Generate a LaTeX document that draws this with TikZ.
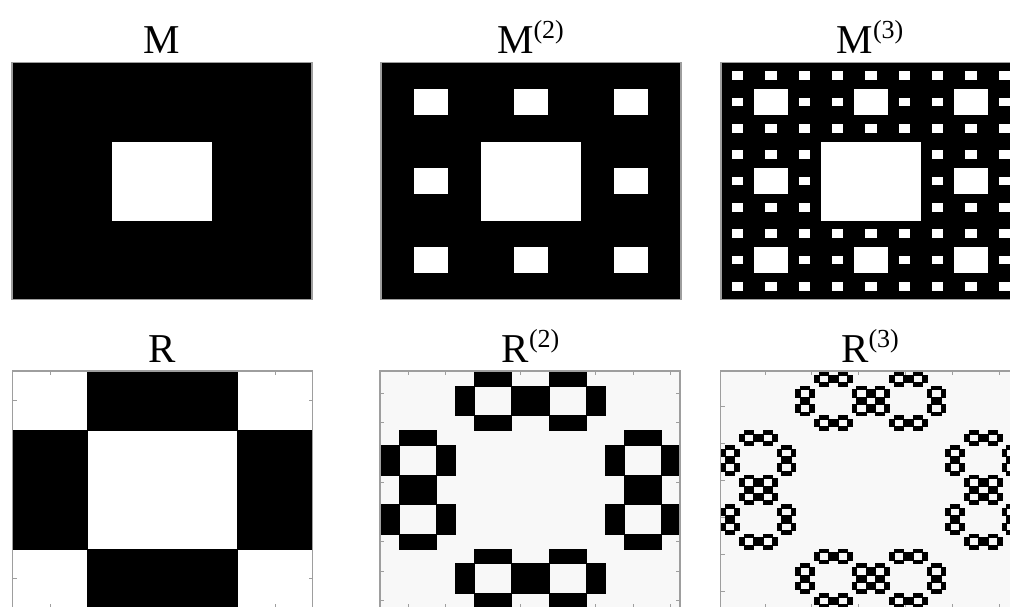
\documentclass[tikz,border=0pt]{standalone}
\usepackage{fontspec}
\setmainfont{Liberation Serif}
\definecolor{bgR}{gray}{0.973}
\definecolor{axc}{gray}{0.62}
\tikzset{
  title/.style={anchor=base, inner sep=0pt, font=\fontsize{41}{41}\selectfont},
  axbox/.style={draw=axc, line width=1.2pt},
  tickmark/.style={draw=axc, line width=0.9pt},
  cellb/.style={fill=black, draw=black, line width=0.35pt},
  cellw/.style={fill=white},
}
\newcommand{\sups}[1]{\raisebox{15pt}{\fontsize{26}{26}\selectfont(#1)}}
\def\Rlist{0/1,0/2,1/0,1/3,2/0,2/3,3/1,3/2}
\newcommand{\rticks}[2]{%
  \foreach \k in {#2} {
    \draw[tickmark] (\k+0.5,0) -- ++(0pt,-4pt);
    \draw[tickmark] (\k+0.5,#1) -- ++(0pt,4pt);
    \draw[tickmark] (0,\k+0.5) -- ++(4pt,0pt);
    \draw[tickmark] (#1,\k+0.5) -- ++(-4pt,0pt);
  }}
\begin{document}
\begin{tikzpicture}[x=1pt,y=-1pt]
\useasboundingbox (0,0) rectangle (1010,606);
\fill[white] (0,0) rectangle (1010,606);
\clip (0,0) rectangle (1010,606);

% titles
\node[title] (tM)  at (162,53)    {M};
\node[title] (tM2) at (530.5,53)  {M\sups{2}};
\node[title] (tM3) at (870,53)    {M\sups{3}};
\node[title] (tR)  at (162.5,362) {R};
\node[title] (tR2) at (530.5,362) {R\sups{2}};
\node[title] (tR3) at (870,362)   {R\sups{3}};

% M
\begin{scope}[shift={(12,62.5)}, x=100pt, y=-79pt]
  \fill[black] (0,0) rectangle (3,3);
  \fill[cellw] (1,1) rectangle (2,2);
  \draw[axbox] (0,0) rectangle (3,3);
\end{scope}

% M^(2)
\begin{scope}[shift={(381,62.5)}, x=33.3333pt, y=-26.3333pt]
  \fill[black] (0,0) rectangle (9,9);
  \fill[cellw] (3,3) rectangle (6,6);
  \foreach \a in {0,1,2} {\foreach \b in {0,1,2} {%
    \ifnum\a\b=11 \else \fill[cellw] (3*\a+1,3*\b+1) rectangle +(1,1);\fi}}
  \draw[axbox] (0,0) rectangle (9,9);
\end{scope}

% M^(3)
\begin{scope}[shift={(721,62.5)}, x=11.1111pt, y=-8.7778pt]
  \fill[black] (0,0) rectangle (27,27);
  \fill[cellw] (9,9) rectangle (18,18);
  \foreach \a in {0,1,2} {\foreach \b in {0,1,2} {%
    \ifnum\a\b=11 \else
      \fill[cellw] (9*\a+3,9*\b+3) rectangle +(3,3);
      \foreach \c in {0,1,2} {\foreach \d in {0,1,2} {%
        \ifnum\c\d=11 \else
          \fill[cellw] (9*\a+3*\c+1,9*\b+3*\d+1) rectangle +(1,1);
        \fi}}
    \fi}}
  \draw[axbox] (0,0) rectangle (27,27);
\end{scope}

% R
\begin{scope}[shift={(12.5,371)}, x=75pt, y=-59.25pt]
  \fill[white] (0,0) rectangle (4,4);
  \rticks{4}{0,1,2,3}
  \foreach \r/\c in \Rlist {\filldraw[cellb] (\c,\r) rectangle +(1,1);}
  \draw[axbox] (0,0) rectangle (4,4);
\end{scope}

% R^(2)
\begin{scope}[shift={(380,371)}, x=18.75pt, y=-14.8125pt]
  \fill[bgR] (0,0) rectangle (16,16);
  \rticks{16}{1,3,5,7,9,11,13,15}
  \foreach \ra/\ca in \Rlist {\foreach \rb/\cb in \Rlist {%
    \filldraw[cellb] (4*\ca+\cb,4*\ra+\rb) rectangle +(1,1);}}
  \draw[axbox] (0,0) rectangle (16,16);
\end{scope}

% R^(3)
\begin{scope}[shift={(720.5,371)}, x=4.6875pt, y=-3.7031pt]
  \fill[bgR] (0,0) rectangle (64,64);
  \rticks{64}{9,19,29,39,49,59}
  \foreach \ra/\ca in \Rlist {\foreach \rb/\cb in \Rlist {\foreach \rc/\cc in \Rlist {%
    \filldraw[cellb] (16*\ca+4*\cb+\cc,16*\ra+4*\rb+\rc) rectangle +(1,1);}}}
  \draw[axbox] (0,0) rectangle (64,64);
\end{scope}
\end{tikzpicture}
\end{document}
